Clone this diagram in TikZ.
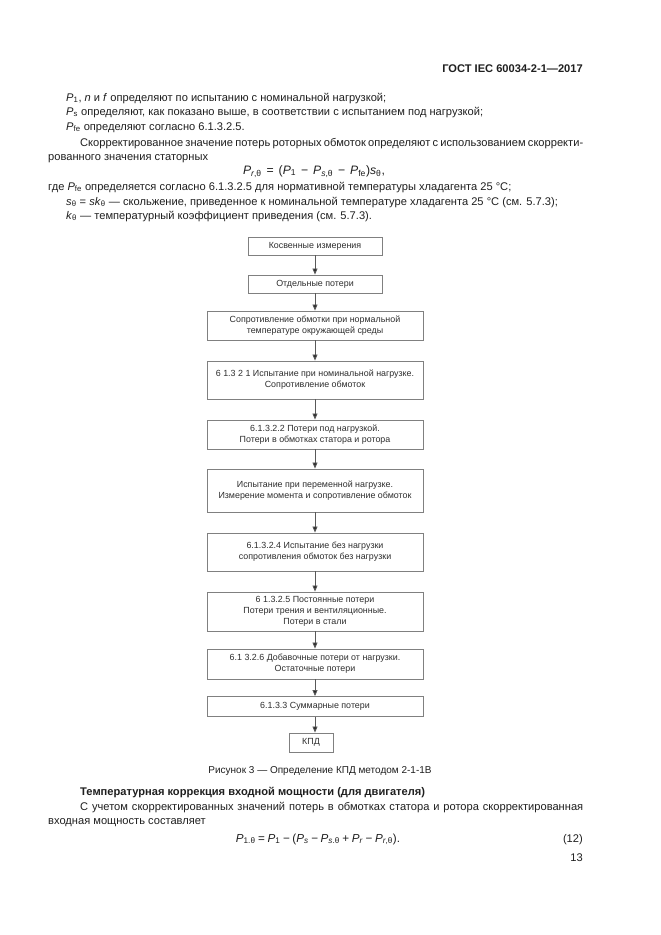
\documentclass[tikz,border=0pt]{standalone}
\usepackage{fontspec}
\setmainfont{Liberation Sans}
\usetikzlibrary{arrows.meta}
\newcommand\iv[1]{\textit{#1}}
\newcommand\sbs[1]{\textsubscript{#1}}
\newcommand\op[1]{\hspace{0.4em}#1\hspace{0.4em}}
\newcommand\opn[1]{\hspace{0.22em}#1\hspace{0.22em}}
\begin{document}
\begin{tikzpicture}[x=0.9pt,y=-0.9pt,
  txt/.style={anchor=base west, inner sep=0, font=\fontsize{10}{13}\selectfont, text=black!88},
  box/.style={draw=black!50, line width=0.7pt, text=black!82, font=\fontsize{8}{10}\selectfont, align=center, inner sep=0, minimum width=194.4pt},
  nbox/.style={box, minimum width=120.6pt},
  arr/.style={draw=black!65, line width=0.8pt, -{Triangle[length=5.5pt,width=4.5pt,fill=black!85]}}
]
\useasboundingbox[fill=white] (0,0) rectangle (661,935);

% header
\node[txt, anchor=base east, font=\bfseries\fontsize{10}{13}\selectfont] (hdr) at (583,72) {ГОСТ IEC 60034-2-1—2017};

% top text
\node[txt] (l1) at (66,101) {\iv{P}\sbs{1}, \iv{n} и \iv{f} определяют по испытанию с номинальной нагрузкой;};
\node[txt] (l2) at (66,115) {\iv{P}\sbs{s} определяют, как показано выше, в соответствии с испытанием под нагрузкой;};
\node[txt] (l3) at (66,130) {\iv{P}\sbs{fe} определяют согласно 6.1.3.2.5.};
\node[txt] (l4) at (80,146) {\makebox[452.7pt][s]{Скорректированное значение потерь роторных обмоток определяют с использованием скорректи-}};
\node[txt] (l5) at (48,160) {рованного значения статорных};
\node[txt, anchor=base, font=\fontsize{11}{13}\selectfont] (f1) at (314,174) {\iv{P}\sbs{\iv{r},θ}\op{=}(\iv{P}\sbs{1}\op{−}\iv{P}\sbs{\iv{s},θ}\op{−}\iv{P}\sbs{fe})\iv{s}\sbs{θ},};
\node[txt] (l6) at (48,190) {где \iv{P}\sbs{fe} определяется согласно 6.1.3.2.5 для нормативной температуры хладагента 25 °C;};
\node[txt] (l7) at (66,205) {\iv{s}\sbs{θ} = \iv{sk}\sbs{θ} — скольжение, приведенное к номинальной температуре хладагента 25 °C (см. 5.7.3);};
\node[txt] (l8) at (66,219) {\iv{k}\sbs{θ} — температурный коэффициент приведения (см. 5.7.3).};

% flowchart
\node[nbox, minimum height=16.2pt] (b1) at (315,246) {Косвенные измерения};
\node[nbox, minimum height=16.2pt] (b2) at (315,284) {Отдельные потери};
\node[box, minimum height=26.1pt] (b3) at (315,325.5) {Сопротивление обмотки при нормальной\\температуре окружающей среды};
\node[box, minimum height=34.2pt] (b4) at (315,380) {6 1.3 2 1 Испытание при номинальной нагрузке.\\Сопротивление обмоток};
\node[box, minimum height=26.1pt] (b5) at (315,434.5) {6.1.3.2.2 Потери под нагрузкой.\\Потери в обмотках статора и ротора};
\node[box, minimum height=38.7pt] (b6) at (315,490.5) {Испытание при переменной нагрузке.\\Измерение момента и сопротивление обмоток};
\node[box, minimum height=34.2pt] (b7) at (315,552) {6.1.3.2.4 Испытание без нагрузки\\сопротивления обмоток без нагрузки};
\node[box, minimum height=35.1pt] (b8) at (315,611.5) {6 1.3.2.5 Постоянные потери\\Потери трения и вентиляционные.\\Потери в стали};
\node[box, minimum height=27pt] (b9) at (315,664) {6.1 3.2.6 Добавочные потери от нагрузки.\\Остаточные потери};
\node[box, minimum height=18pt] (b10) at (315,706.5) {6.1.3.3 Суммарные потери};
\node[box, minimum width=39.6pt, minimum height=17.1pt] (b11) at (311,742.5) {КПД};

\draw[arr] (b1) -- (b2);
\draw[arr] (b2) -- (b3);
\draw[arr] (b3) -- (b4);
\draw[arr] (b4) -- (b5);
\draw[arr] (b5) -- (b6);
\draw[arr] (b6) -- (b7);
\draw[arr] (b7) -- (b8);
\draw[arr] (b8) -- (b9);
\draw[arr] (b9) -- (b10);
\draw[arr] (b10.south) -- (b10.south |- b11.north);

% caption and bottom text
\node[txt, anchor=base, font=\fontsize{9}{11}\selectfont] (cap) at (320,773) {Рисунок 3 — Определение КПД методом 2-1-1В};
\node[txt, font=\bfseries\fontsize{10}{13}\selectfont] (hd) at (80,795) {Температурная коррекция входной мощности (для двигателя)};
\node[txt] (m1) at (80,810) {\makebox[452.7pt][s]{С учетом скорректированных значений потерь в обмотках статора и ротора скорректированная}};
\node[txt] (m2) at (48,824) {входная мощность составляет};
\node[txt, anchor=base, font=\fontsize{10.5}{13}\selectfont] (f2) at (318,842) {\iv{P}\sbs{1.θ}\opn{=}\iv{P}\sbs{1}\opn{−}(\iv{P}\sbs{\iv{s}}\opn{−}\iv{P}\sbs{\iv{s}.θ}\opn{+}\iv{P}\sbs{\iv{r}}\opn{−}\iv{P}\sbs{\iv{r},θ}).};
\node[txt, anchor=base east] (eq) at (583,842) {(12)};
\node[txt, anchor=base east] (pg) at (583,861) {13};
\end{tikzpicture}
\end{document}
